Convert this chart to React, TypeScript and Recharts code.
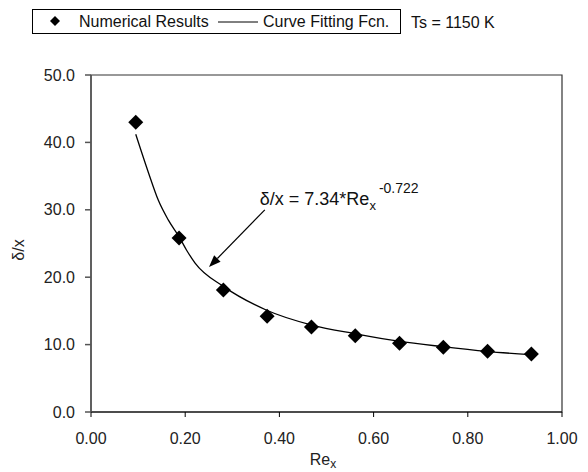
import React from 'react';
import {
  ComposedChart,
  Line,
  Scatter,
  XAxis,
  YAxis,
  ReferenceArea,
  ReferenceLine,
} from 'recharts';

// Numerical results: boundary-layer thickness ratio vs. local Reynolds number
const reynolds = [0.095, 0.187, 0.281, 0.374, 0.468, 0.561, 0.655, 0.748, 0.842, 0.935];
const thickness = [43.0, 25.8, 18.1, 14.2, 12.6, 11.3, 10.2, 9.6, 9.0, 8.6];

// Curve fitting function, sampled along the drawn trend line
const fitRe = [0.095, 0.122, 0.143, 0.164, 0.187, 0.203, 0.221, 0.282, 0.373, 0.469, 0.562, 0.653, 0.746, 0.84, 0.933];
const fitDelta = [41.2, 35.5, 31.4, 28.5, 26.0, 24.0, 22.1, 18.6, 15.1, 12.9, 11.6, 10.5, 9.7, 9.0, 8.5];

const xTicks = [0, 0.2, 0.4, 0.6, 0.8, 1.0];
const yTicks = [0, 10, 20, 30, 40, 50];

// Arrow of the fit annotation (from label to curve), in data units
const noteFrom = { x: 0.369, y: 30.0 };
const noteTo = { x: 0.2505, y: 21.5 };

const resultPoints = reynolds.map((x, i) => ({ x, y: thickness[i] }));
const fitPoints = fitRe.map((x, i) => ({ x, y: fitDelta[i] }));

const FONT = '"Liberation Sans", Arial, sans-serif';

const Diamond = (props: any) => {
  const { cx, cy } = props;
  const r = 7.5;
  return (
    <polygon
      points={`${cx},${cy - r} ${cx + r},${cy} ${cx},${cy + r} ${cx - r},${cy}`}
      fill="#000"
    />
  );
};

const FitNote = (props: any) => {
  const { x1, y1, x2, y2 } = props;
  const ang = Math.atan2(y2 - y1, x2 - x1);
  const L = 12;
  const W = 4.5;
  const bx = x2 - L * Math.cos(ang);
  const by = y2 - L * Math.sin(ang);
  const px = -Math.sin(ang) * W;
  const py = Math.cos(ang) * W;
  return (
    <g>
      <line x1={x1} y1={y1} x2={bx} y2={by} stroke="#000" strokeWidth={1.2} />
      <polygon points={`${x2},${y2} ${bx + px},${by + py} ${bx - px},${by - py}`} fill="#000" />
      <text x={x1 - 5} y={y1 - 5} fontSize={18} fill="#111" fontFamily={FONT}>
        δ/x = 7.34*Re
        <tspan dy={5} fontSize={13}>x</tspan>
        <tspan dx={3} dy={-17} fontSize={14}>-0.722</tspan>
      </text>
    </g>
  );
};

export default function App() {
  return (
    <div
      style={{
        position: 'absolute',
        left: 0,
        top: 0,
        width: 588,
        height: 472,
        background: '#fff',
        fontFamily: FONT,
      }}
    >
      <ComposedChart
        width={588}
        height={472}
        margin={{ top: 75, right: 26, bottom: 20, left: 31 }}
      >
        <ReferenceArea x1={0} x2={1} y1={0} y2={50} fill="none" stroke="#333" strokeWidth={1.2} />
        <XAxis
          dataKey="x"
          type="number"
          domain={[0, 1]}
          ticks={xTicks}
          tickFormatter={(v: number) => v.toFixed(2)}
          tick={{ fill: '#222', fontSize: 16, fontFamily: FONT }}
          tickSize={5}
          tickMargin={16}
          height={40}
          stroke="#000"
          allowDataOverflow
        />
        <YAxis
          dataKey="y"
          type="number"
          domain={[0, 50]}
          ticks={yTicks}
          tickFormatter={(v: number) => v.toFixed(1)}
          tick={{ fill: '#222', fontSize: 16, fontFamily: FONT }}
          tickSize={6}
          tickMargin={10}
          width={60}
          stroke="#555"
          strokeWidth={1.5}
          allowDataOverflow
        />
        <Line
          data={fitPoints}
          dataKey="y"
          type="monotone"
          stroke="#000"
          strokeWidth={1.3}
          dot={false}
          activeDot={false}
          isAnimationActive={false}
        />
        <Scatter
          data={resultPoints}
          dataKey="y"
          shape={<Diamond />}
          isAnimationActive={false}
        />
        <ReferenceLine
          segment={[noteFrom, noteTo]}
          shape={<FitNote />}
          ifOverflow="visible"
        />
      </ComposedChart>
      <svg
        width={588}
        height={472}
        style={{ position: 'absolute', left: 0, top: 0, pointerEvents: 'none' }}
        fontFamily={FONT}
      >
        <rect x={32.5} y={9.5} width={368} height={24} fill="none" stroke="#000" strokeWidth={1} />
        <polygon points="55,16 60,21 55,26 50,21" fill="#000" />
        <text x={79} y={27} fontSize={16} fill="#111">Numerical Results</text>
        <line x1={218} x2={258} y1={22} y2={22} stroke="#000" strokeWidth={1} />
        <text x={263} y={27} fontSize={16} fill="#111">Curve Fitting Fcn.</text>
        <text x={411} y={28} fontSize={16} fill="#111">Ts = 1150 K</text>
        <text
          x={24}
          y={250}
          fontSize={16}
          fill="#222"
          textAnchor="middle"
          transform="rotate(-90, 24, 250)"
        >
          δ/x
        </text>
        <text x={323} y={465} fontSize={16} fill="#222" textAnchor="middle">
          Re<tspan dy={3} fontSize={12}>x</tspan>
        </text>
      </svg>
    </div>
  );
}
